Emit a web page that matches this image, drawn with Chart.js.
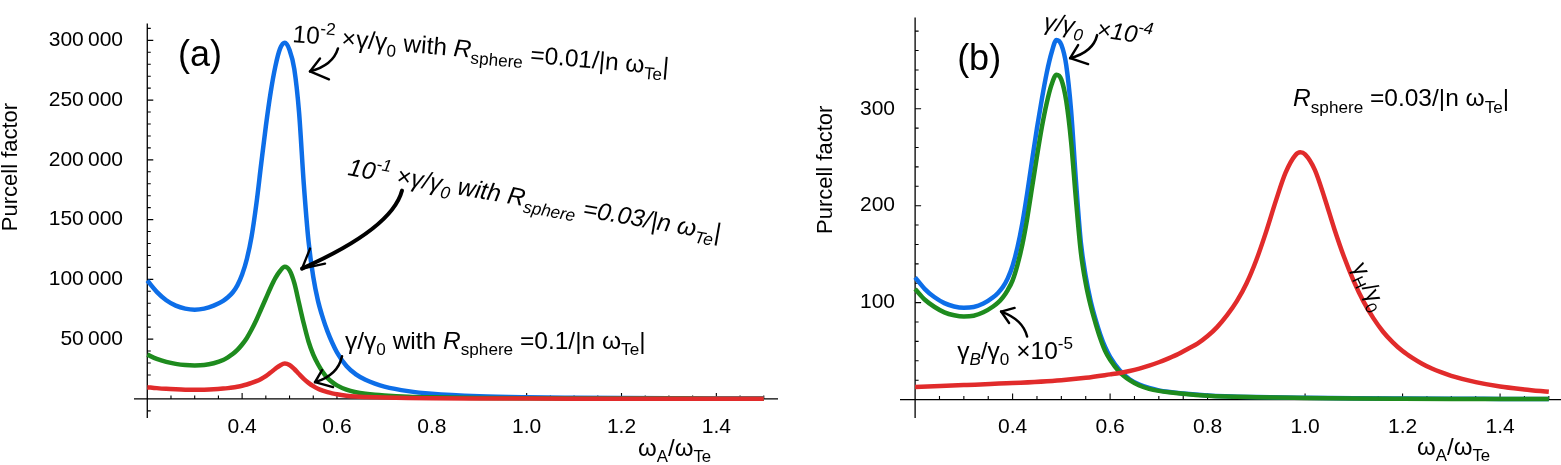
<!DOCTYPE html>
<html>
<head>
<meta charset="utf-8">
<script src="https://cdn.jsdelivr.net/npm/chart.js@4/dist/chart.umd.min.js"></script>
<style>
  html, body { margin: 0; padding: 0; background: #fff; }
  #wrap { position: relative; width: 1561px; height: 465px; overflow: hidden; }
  #cA { position: absolute; left: 0; top: 0; }
  #cB { position: absolute; left: 780px; top: 0; }
</style>
</head>
<body>
<div id="wrap">
  <canvas id="cA" width="780" height="465"></canvas>
  <canvas id="cB" width="781" height="465"></canvas>
</div>
<script>
const FONT = '"Liberation Sans", Arial, Helvetica, sans-serif';

// omega_A / omega_Te samples for the resonance curves (both panels)
const xRes = [0.20, 0.22, 0.24, 0.26, 0.28, 0.30, 0.32, 0.34, 0.36,
  0.37, 0.38, 0.39, 0.40, 0.41, 0.42, 0.43, 0.44, 0.45, 0.46, 0.47, 0.48,
  0.49, 0.50, 0.51, 0.52, 0.53, 0.54, 0.55, 0.56, 0.57, 0.58, 0.59, 0.60,
  0.62, 0.64, 0.66, 0.68, 0.70, 0.75, 0.80,
  0.90, 1.00, 1.10, 1.20, 1.30, 1.40, 1.50];

// panel (a)
const blueA = [99000, 89500, 82500, 78000, 75500, 74600, 75500, 78000, 82000,
  85000, 89000, 95000, 104000, 117000, 136000, 163000, 196000, 228000, 256000, 278000, 293000,
  298000, 292000, 276000, 240000, 180000, 132000, 102000, 82000, 68000, 56500, 47000, 39000,
  27500, 20500, 16000, 12800, 10300, 6500, 4300,
  2200, 1300, 900, 650, 500, 400, 320];
const greenA = [37000, 33500, 31000, 29300, 28300, 28000, 28300, 29800, 32500,
  34800, 37500, 41000, 45500, 51000, 58000, 66000, 75000, 84000, 93000, 101000, 107000,
  110500, 107500, 97000, 80000, 63000, 48000, 37000, 29000, 22500, 17500, 14000, 11300,
  7700, 5600, 4300, 3400, 2800, 1800, 1300,
  800, 550, 400, 300, 250, 200, 180];
const redA = [9800, 9000, 8400, 8000, 7700, 7600, 7700, 8000, 8600,
  9000, 9500, 10200, 11000, 12000, 13300, 14800, 16700, 19000, 22000, 25200, 28000,
  29500, 28300, 25000, 20800, 16800, 13400, 10700, 8500, 6900, 5600, 4600, 3800,
  2700, 2000, 1600, 1300, 1050, 700, 500,
  350, 250, 180, 140, 110, 90, 80];

// panel (b)
const blueB = [126, 114, 105.5, 99.5, 96, 94.7, 95.5, 99, 105.5,
  110, 116, 125, 138, 157, 182, 213, 247, 280, 310, 337, 358,
  371, 366, 345, 298, 225, 162, 127, 102, 83, 67, 54, 44,
  30, 21, 15.5, 12, 9.5, 6.3, 4.3,
  2.6, 1.8, 1.3, 1.0, 0.8, 0.7, 0.6];
const greenB = [114, 103, 95.5, 90, 87, 85.7, 86.5, 90, 96,
  100, 105.5, 113, 123, 139, 160, 187, 219, 251, 281, 306, 325,
  335, 330, 308, 266, 206, 152, 120, 97, 79, 63, 50, 41,
  28, 20, 14.5, 11, 9, 6, 4,
  2.4, 1.7, 1.2, 0.9, 0.7, 0.6, 0.5];
const xH = [0.20, 0.30, 0.40, 0.50, 0.55, 0.60,
  0.62, 0.64, 0.66, 0.68, 0.70, 0.72, 0.74, 0.76, 0.78, 0.80,
  0.82, 0.84, 0.86, 0.88, 0.90, 0.92, 0.94, 0.96, 0.98, 0.99,
  1.00, 1.02, 1.04, 1.06, 1.08, 1.10, 1.12, 1.14, 1.16, 1.18,
  1.20, 1.22, 1.24, 1.26, 1.28, 1.30, 1.35, 1.40, 1.45, 1.50];
const redB = [13, 15, 17, 20, 22.5, 26,
  27.5, 29.5, 32, 35, 38.5, 42.5, 47, 52.5, 58, 65.5,
  75, 87, 101.5, 120, 144, 173, 205, 234, 252, 255,
  253, 237, 208, 176, 147, 122, 101, 84, 70, 59,
  50, 43, 37, 32, 28, 24.5, 18, 13.5, 10.5, 8];

// ticks
const xTicks = [0.4, 0.6, 0.8, 1.0, 1.2, 1.4];
const xTickLabels = ['0.4', '0.6', '0.8', '1.0', '1.2', '1.4'];
const yTicksA = [50000, 100000, 150000, 200000, 250000, 300000];
const yTickLabelsA = ['50\u2009000', '100\u2009000', '150\u2009000', '200\u2009000', '250\u2009000', '300\u2009000'];
const yTicksB = [100, 200, 300];
const yTickLabelsB = ['100', '200', '300'];

const BLUE = '#0d6ee8', GREEN = '#1e8b1e', RED = '#e12b2b';
const NOTE = 24.5;

function pts(xs, ys) { return xs.map((x, i) => ({ x: x, y: ys[i] })); }

function drawRuns(ctx, px, py, angle, size, italic, runs, align) {
  ctx.save();
  ctx.translate(px, py);
  ctx.rotate(angle * Math.PI / 180);
  ctx.fillStyle = '#000';
  ctx.textBaseline = 'alphabetic';
  ctx.textAlign = 'left';
  const fontOf = r => ((r.i || italic) ? 'italic ' : '') + (r.s ? size * 0.7 : size) + 'px ' + FONT;
  let total = 0;
  runs.forEach(r => { ctx.font = fontOf(r); total += ctx.measureText(r.t).width; });
  let cx = align === 'center' ? -total / 2 : 0;
  runs.forEach(r => {
    ctx.font = fontOf(r);
    const dy = r.s === 'sub' ? size * 0.25 : (r.s === 'sup' ? -size * 0.42 : 0);
    ctx.fillText(r.t, cx, dy);
    cx += ctx.measureText(r.t).width;
  });
  ctx.restore();
}

function drawArrow(ctx, tx, ty, a) {
  ctx.save();
  ctx.strokeStyle = '#000';
  ctx.lineWidth = a.w;
  ctx.lineCap = 'round';
  ctx.lineJoin = 'round';
  ctx.beginPath();
  ctx.moveTo(tx + a.start[0], ty + a.start[1]);
  ctx.quadraticCurveTo(tx + a.ctrl[0], ty + a.ctrl[1], tx, ty);
  ctx.stroke();
  ctx.lineWidth = 2.4;
  ctx.beginPath();
  ctx.moveTo(tx + a.arms[0][0], ty + a.arms[0][1]);
  ctx.lineTo(tx, ty);
  ctx.lineTo(tx + a.arms[1][0], ty + a.arms[1][1]);
  ctx.stroke();
  ctx.restore();
}

function axesPlugin(cfg) {
  return {
    id: 'mmaAxes',
    beforeDatasetsDraw(chart) {
      const { ctx, chartArea: a, scales: { x, y } } = chart;
      const x0 = x.getPixelForValue(cfg.originX), y0 = y.getPixelForValue(0);
      ctx.save();
      ctx.strokeStyle = '#000';
      ctx.lineWidth = 1.3;
      ctx.beginPath();
      ctx.moveTo(a.left, y0); ctx.lineTo(a.right, y0);
      ctx.moveTo(x0, a.top); ctx.lineTo(x0, a.bottom);
      ctx.stroke();
      ctx.lineWidth = 1.1;
      ctx.beginPath();
      for (let k = 1; cfg.originX + k * 0.05 <= x.max; k++) {
        const v = cfg.originX + k * 0.05;
        const major = xTicks.some(t => Math.abs(t - v) < 1e-6);
        const px = x.getPixelForValue(v);
        ctx.moveTo(px, y0); ctx.lineTo(px, y0 - (major ? 6 : 3.5));
      }
      for (let v = Math.ceil(y.min / cfg.yMinor) * cfg.yMinor; v <= y.max; v += cfg.yMinor) {
        if (Math.abs(v) < 1e-9) continue;
        const major = cfg.yMajor.some(t => Math.abs(t - v) < 1e-6);
        const py = y.getPixelForValue(v);
        ctx.moveTo(x0, py); ctx.lineTo(x0 + (major ? 6 : 3.5), py);
      }
      ctx.stroke();
      ctx.restore();
    },
    afterDatasetsDraw(chart) {
      const { ctx, scales: { x, y } } = chart;
      cfg.notes.forEach(n => drawRuns(ctx, x.getPixelForValue(n.x), y.getPixelForValue(n.y),
        n.angle || 0, n.size, n.italic, n.runs, n.align));
      cfg.arrows.forEach(ar => drawArrow(ctx, x.getPixelForValue(ar.x), y.getPixelForValue(ar.y), ar));
    }
  };
}

function makeChart(id, o) {
  return new Chart(document.getElementById(id), {
    type: 'line',
    data: { datasets: o.datasets.map(d => ({
      data: d.data, borderColor: d.color, borderWidth: 4.5, pointRadius: 0,
      fill: false, cubicInterpolationMode: 'monotone'
    })) },
    options: {
      responsive: false,
      animation: false,
      events: [],
      layout: { padding: o.padding },
      plugins: { legend: { display: false }, tooltip: { enabled: false } },
      scales: {
        x: {
          type: 'linear', min: o.xMin, max: o.xMax,
          grid: { display: false, drawTicks: false }, border: { display: false },
          afterBuildTicks: s => { s.ticks = xTicks.map(v => ({ value: v })); },
          afterFit: s => { s.height = 47; },
          ticks: { callback: (v, i) => xTickLabels[i], autoSkip: false, maxRotation: 0,
            padding: -3, color: '#000', font: { family: FONT, size: 21 } }
        },
        y: {
          type: 'linear', min: o.yMin, max: o.yMax,
          grid: { display: false, drawTicks: false }, border: { display: false },
          afterBuildTicks: s => { s.ticks = o.yTicks.map(v => ({ value: v })); },
          afterFit: s => { s.width = o.yWidth; },
          ticks: { callback: (v, i) => o.yLabels[i], autoSkip: false,
            padding: o.yPad, color: '#000', font: { family: FONT, size: 21 } }
        }
      }
    },
    plugins: [axesPlugin(o.axes)]
  });
}

const omegaTitle = [{ t: 'ω' }, { t: 'A', s: 'sub' }, { t: '/ω' }, { t: 'Te', s: 'sub' }];

makeChart('cA', {
  datasets: [
    { data: pts(xRes, redA), color: RED },
    { data: pts(xRes, greenA), color: GREEN },
    { data: pts(xRes, blueA), color: BLUE }
  ],
  xMin: 0.172, xMax: 1.53, yMin: -16000, yMax: 314000,
  yTicks: yTicksA, yLabels: yTickLabelsA, yWidth: 134, yPad: 11,
  padding: { top: 22, right: 2, left: 0, bottom: 0 },
  axes: {
    originX: 0.2, yMajor: yTicksA, yMinor: 10000,
    notes: [
      { x: -0.0747, y: 194000, angle: -90, size: 22, align: 'center', runs: [{ t: 'Purcell factor' }] },
      { x: 1.2349, y: -47700, size: 24, runs: omegaTitle },
      { x: 0.2648, y: 278200, size: 36, runs: [{ t: '(a)' }] },
      { x: 0.5052, y: 298700, angle: 5, size: NOTE, runs: [
        { t: '10' }, { t: '-2', s: 'sup' }, { t: ' ×γ/γ' }, { t: '0', s: 'sub' }, { t: ' with ' },
        { t: 'R', i: true }, { t: 'sphere', s: 'sub' }, { t: ' =0.01/|n ω' }, { t: 'Te', s: 'sub' }, { t: '|' }] },
      { x: 0.6212, y: 187300, angle: 10, size: NOTE, italic: true, runs: [
        { t: '10' }, { t: '-1', s: 'sup' }, { t: ' ×γ/γ' }, { t: '0', s: 'sub' }, { t: ' with ' },
        { t: 'R' }, { t: 'sphere', s: 'sub' }, { t: ' =0.03/|n ω' }, { t: 'Te', s: 'sub' }, { t: '|' }] },
      { x: 0.617, y: 41500, size: NOTE, runs: [
        { t: 'γ/γ' }, { t: '0', s: 'sub' }, { t: ' with ' },
        { t: 'R', i: true }, { t: 'sphere', s: 'sub' }, { t: ' =0.1/|n ω' }, { t: 'Te', s: 'sub' }, { t: '|' }] }
    ],
    arrows: [
      { x: 0.5431, y: 274000, w: 2.5, start: [28, -23], ctrl: [23, -6], arms: [[10, -13], [19, 8]] },
      { x: 0.5263, y: 109000, w: 4, start: [100, -78], ctrl: [90, -40], arms: [[8, -20], [23, -5]] },
      { x: 0.5537, y: 14000, w: 2.5, start: [27, -26], ctrl: [23, -7], arms: [[7, -12], [18, 5]] }
    ]
  }
});

makeChart('cB', {
  datasets: [
    { data: pts(xH, redB), color: RED },
    { data: pts(xRes, greenB), color: GREEN },
    { data: pts(xRes, blueB), color: BLUE }
  ],
  xMin: 0.169, xMax: 1.525, yMin: -19, yMax: 394,
  yTicks: yTicksB, yLabels: yTickLabelsB, yWidth: 120, yPad: 5,
  padding: { top: 12, right: 0, left: 0, bottom: 0 },
  axes: {
    originX: 0.2, yMajor: yTicksB, yMinor: 20,
    notes: [
      { x: 0.0297, y: 237, angle: -90, size: 22, align: 'center', runs: [{ t: 'Purcell factor' }] },
      { x: 1.2297, y: -56.7, size: 24, runs: omegaTitle },
      { x: 0.2862, y: 340, size: 36, runs: [{ t: '(b)' }] },
      { x: 0.4626, y: 381.8, angle: 8, size: 24, italic: true, runs: [
        { t: 'γ/γ' }, { t: '0', s: 'sub' }, { t: '  ×10' }, { t: '-4', s: 'sup' }] },
      { x: 0.9754, y: 302.4, size: NOTE, runs: [
        { t: 'R', i: true }, { t: 'sphere', s: 'sub' }, { t: ' =0.03/|n ω' }, { t: 'Te', s: 'sub' }, { t: '|' }] },
      { x: 0.2862, y: 42, size: NOTE, runs: [
        { t: 'γ' }, { t: 'B', s: 'sub', i: true }, { t: '/γ' }, { t: '0', s: 'sub' }, { t: ' ×10' }, { t: '-5', s: 'sup' }] },
      { x: 1.0964, y: 137, angle: 65, size: 23, runs: [
        { t: 'γ' }, { t: 'H', s: 'sub' }, { t: '/γ' }, { t: '0', s: 'sub' }] }
    ],
    arrows: [
      { x: 0.518, y: 352.2, w: 2.5, start: [27, -23], ctrl: [23, -6], arms: [[8, -13], [18, 6]] },
      { x: 0.3764, y: 90.8, w: 2.5, start: [26, 25], ctrl: [22, 8], arms: [[8, 11.5], [13.5, -3.6]] }
    ]
  }
});
</script>
</body>
</html>
